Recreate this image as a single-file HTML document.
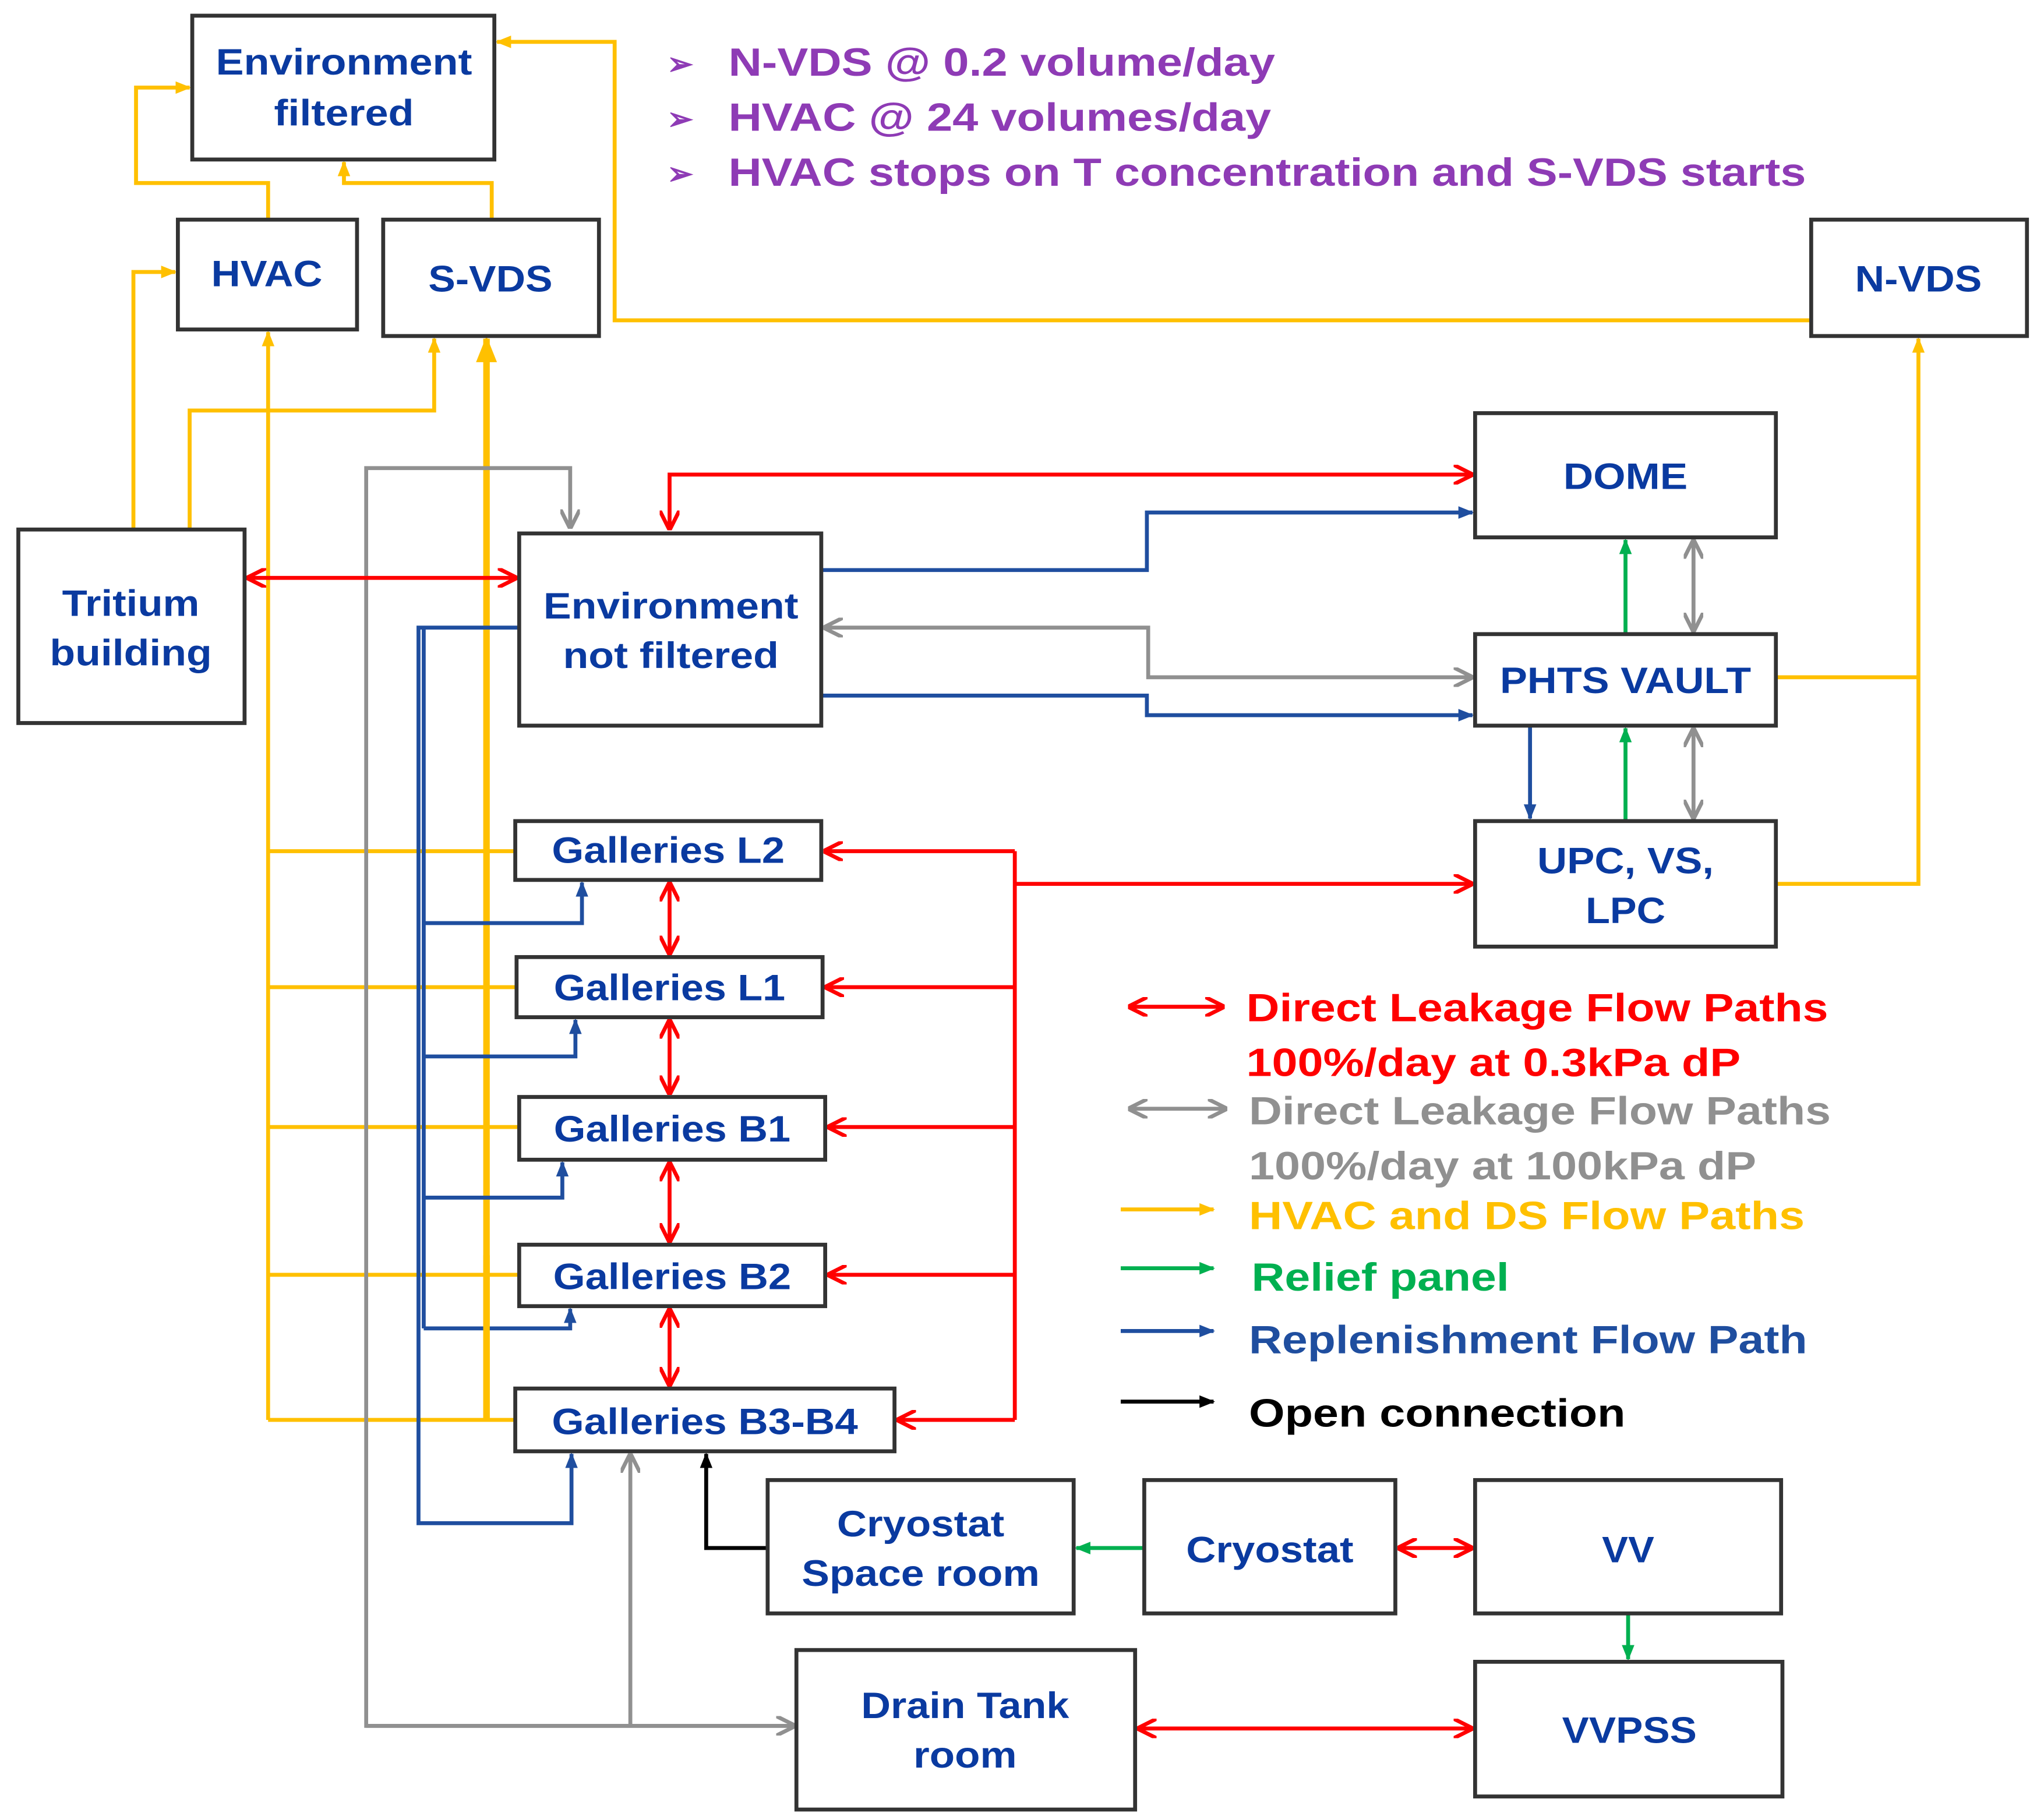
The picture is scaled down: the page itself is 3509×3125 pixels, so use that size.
<!DOCTYPE html>
<html><head><meta charset="utf-8"><style>
html,body{margin:0;padding:0;background:#fff;}
svg{display:block;}
text{font-family:"Liberation Sans",Arial,sans-serif;font-weight:bold;}
</style></head><body>
<svg width="3509" height="3125" viewBox="0 0 1563 1392" xmlns="http://www.w3.org/2000/svg">
<defs>
<marker id="ay" viewBox="0 0 10 10" refX="9" refY="5" markerWidth="4" markerHeight="4" orient="auto-start-reverse" markerUnits="strokeWidth"><path d="M0,1 L10,5 L0,9 z" fill="#FFC000"/></marker>
<marker id="ar" viewBox="0 0 10 10" refX="9" refY="5" markerWidth="5" markerHeight="5" orient="auto-start-reverse" markerUnits="strokeWidth"><path d="M0,0 L10,5 L0,10" fill="none" stroke="#FF0000" stroke-width="2"/></marker>
<marker id="ag" viewBox="0 0 10 10" refX="9" refY="5" markerWidth="5" markerHeight="5" orient="auto-start-reverse" markerUnits="strokeWidth"><path d="M0,0 L10,5 L0,10" fill="none" stroke="#909090" stroke-width="2"/></marker>
<marker id="ab" viewBox="0 0 10 10" refX="9" refY="5" markerWidth="4" markerHeight="4" orient="auto-start-reverse" markerUnits="strokeWidth"><path d="M0,1 L10,5 L0,9 z" fill="#1F4E9F"/></marker>
<marker id="agr" viewBox="0 0 10 10" refX="9" refY="5" markerWidth="4" markerHeight="4" orient="auto-start-reverse" markerUnits="strokeWidth"><path d="M0,1 L10,5 L0,9 z" fill="#00B050"/></marker>
<marker id="ak" viewBox="0 0 10 10" refX="9" refY="5" markerWidth="4" markerHeight="4" orient="auto-start-reverse" markerUnits="strokeWidth"><path d="M0,1 L10,5 L0,9 z" fill="#000"/></marker>
</defs>

<!-- yellow -->
<g fill="none" stroke="#FFC000" stroke-width="3">
<path d="M1385,245 H470 V32 H380" marker-end="url(#ay)"/>
<path d="M205,168 V140 H104 V67 H145" marker-end="url(#ay)"/>
<path d="M376,168 V140 H263 V124" marker-end="url(#ay)"/>
<path d="M102,405 V208 H134" marker-end="url(#ay)"/>
<path d="M145,405 V314 H332 V259" marker-end="url(#ay)"/>
<path d="M205,1086 V254" marker-end="url(#ay)"/>
<path d="M205,651 H394 M205,755 H395 M205,862 H397 M205,975 H397 M205,1086 H394"/>
<path d="M372,1086 V259" stroke-width="5" marker-end="url(#ay)"/>
<path d="M1358,518 H1467 M1358,676 H1467 V259" marker-end="url(#ay)"/>
</g>

<!-- gray -->
<g fill="none" stroke="#909090" stroke-width="3">
<path d="M607,1320 H280 V358 H436 V403" marker-end="url(#ag)"/>
<path d="M280,1320 H607" marker-end="url(#ag)"/>
<path d="M482,1320 V1113" marker-end="url(#ag)"/>
<path d="M631,480 H878 V518 H1125" marker-start="url(#ag)" marker-end="url(#ag)"/>
<path d="M1295,414 V482" marker-start="url(#ag)" marker-end="url(#ag)"/>
<path d="M1295,558 V625" marker-start="url(#ag)" marker-end="url(#ag)"/>
</g>

<!-- blue -->
<g fill="none" stroke="#1F4E9F" stroke-width="3">
<path d="M628,436 H877 V392 H1126" marker-end="url(#ab)"/>
<path d="M628,532 H877 V547 H1126" marker-end="url(#ab)"/>
<path d="M1170,555 V626" marker-end="url(#ab)"/>
<path d="M397,480 H320 V1165 H437 V1112" marker-end="url(#ab)"/>
<path d="M324,480 V1016"/>
<path d="M324,706 H445 V675" marker-end="url(#ab)"/>
<path d="M324,808 H440 V780" marker-end="url(#ab)"/>
<path d="M324,916 H430 V889" marker-end="url(#ab)"/>
<path d="M324,1016 H436 V1001" marker-end="url(#ab)"/>
</g>

<!-- red -->
<g fill="none" stroke="#FF0000" stroke-width="3">
<path d="M512,404 V363 H1125" marker-start="url(#ar)" marker-end="url(#ar)"/>
<path d="M190,442 H394" marker-start="url(#ar)" marker-end="url(#ar)"/>
<path d="M776,651 V1086"/>
<path d="M776,651 H631" marker-end="url(#ar)"/>
<path d="M776,755 H632" marker-end="url(#ar)"/>
<path d="M776,862 H634" marker-end="url(#ar)"/>
<path d="M776,975 H634" marker-end="url(#ar)"/>
<path d="M776,1086 H687" marker-end="url(#ar)"/>
<path d="M776,676 H1125" marker-end="url(#ar)"/>
<path d="M512,676 V729" marker-start="url(#ar)" marker-end="url(#ar)"/>
<path d="M512,781 V836" marker-start="url(#ar)" marker-end="url(#ar)"/>
<path d="M512,890 V949" marker-start="url(#ar)" marker-end="url(#ar)"/>
<path d="M512,1002 V1059" marker-start="url(#ar)" marker-end="url(#ar)"/>
<path d="M1070,1184 H1125" marker-start="url(#ar)" marker-end="url(#ar)"/>
<path d="M871,1322 H1125" marker-start="url(#ar)" marker-end="url(#ar)"/>
</g>

<!-- green -->
<g fill="none" stroke="#00B050" stroke-width="3">
<path d="M1243,485 V413" marker-end="url(#agr)"/>
<path d="M1243,628 V557" marker-end="url(#agr)"/>
<path d="M875,1184 H823" marker-end="url(#agr)"/>
<path d="M1245,1234 V1269" marker-end="url(#agr)"/>
</g>
<path d="M587,1184 H540 V1112" fill="none" stroke="#000" stroke-width="3" marker-end="url(#ak)"/>

<!-- boxes -->
<g fill="#fff" stroke="#333" stroke-width="3">
<rect x="147" y="12" width="231" height="110"/>
<rect x="136" y="168" width="137" height="84"/>
<rect x="293" y="168" width="165" height="89"/>
<rect x="1385" y="168" width="165" height="89"/>
<rect x="14" y="405" width="173" height="148"/>
<rect x="397" y="408" width="231" height="147"/>
<rect x="1128" y="316" width="230" height="95"/>
<rect x="1128" y="485" width="230" height="70"/>
<rect x="1128" y="628" width="230" height="96"/>
<rect x="394" y="628" width="234" height="45"/>
<rect x="395" y="732" width="234" height="46"/>
<rect x="397" y="839" width="234" height="48"/>
<rect x="397" y="952" width="234" height="47"/>
<rect x="394" y="1062" width="290" height="48"/>
<rect x="587" y="1132" width="234" height="102"/>
<rect x="875" y="1132" width="192" height="102"/>
<rect x="1128" y="1132" width="234" height="102"/>
<rect x="609" y="1262" width="259" height="122"/>
<rect x="1128" y="1271" width="235" height="103"/>
</g>
<path d="M372,1086 V960" stroke="#FFC000" stroke-width="5"/>

<g fill="#0A3AA0" font-size="28" text-anchor="middle" lengthAdjust="spacingAndGlyphs">
<text x="263" y="57" textLength="196" lengthAdjust="spacingAndGlyphs">Environment</text><text x="263" y="96" textLength="107" lengthAdjust="spacingAndGlyphs">filtered</text>
<text x="204" y="219" textLength="85" lengthAdjust="spacingAndGlyphs">HVAC</text>
<text x="375" y="223" textLength="95" lengthAdjust="spacingAndGlyphs">S-VDS</text>
<text x="1467" y="223" textLength="97" lengthAdjust="spacingAndGlyphs">N-VDS</text>
<text x="100" y="471" textLength="105" lengthAdjust="spacingAndGlyphs">Tritium</text><text x="100" y="509" textLength="124" lengthAdjust="spacingAndGlyphs">building</text>
<text x="513" y="473" textLength="195" lengthAdjust="spacingAndGlyphs">Environment</text><text x="513" y="511" textLength="165" lengthAdjust="spacingAndGlyphs">not filtered</text>
<text x="1243" y="374" textLength="95" lengthAdjust="spacingAndGlyphs">DOME</text>
<text x="1243" y="530" textLength="192" lengthAdjust="spacingAndGlyphs">PHTS VAULT</text>
<text x="1243" y="668" textLength="135" lengthAdjust="spacingAndGlyphs">UPC, VS,</text><text x="1243" y="706" textLength="61" lengthAdjust="spacingAndGlyphs">LPC</text>
<text x="511" y="660" textLength="178" lengthAdjust="spacingAndGlyphs">Galleries L2</text>
<text x="512" y="765" textLength="177" lengthAdjust="spacingAndGlyphs">Galleries L1</text>
<text x="514" y="873" textLength="181" lengthAdjust="spacingAndGlyphs">Galleries B1</text>
<text x="514" y="986" textLength="182" lengthAdjust="spacingAndGlyphs">Galleries B2</text>
<text x="539" y="1097" textLength="234" lengthAdjust="spacingAndGlyphs">Galleries B3-B4</text>
<text x="704" y="1175" textLength="128" lengthAdjust="spacingAndGlyphs">Cryostat</text><text x="704" y="1213" textLength="182" lengthAdjust="spacingAndGlyphs">Space room</text>
<text x="971" y="1195" textLength="128" lengthAdjust="spacingAndGlyphs">Cryostat</text>
<text x="1245" y="1195" textLength="40" lengthAdjust="spacingAndGlyphs">VV</text>
<text x="738" y="1314" textLength="159" lengthAdjust="spacingAndGlyphs">Drain Tank</text><text x="738" y="1352" textLength="79" lengthAdjust="spacingAndGlyphs">room</text>
<text x="1246" y="1333" textLength="103" lengthAdjust="spacingAndGlyphs">VVPSS</text>
</g>

<g fill="#8E3BB5" font-size="30">
<text x="510" y="57" font-size="24">➢</text><text x="557" y="58" textLength="418" lengthAdjust="spacingAndGlyphs">N-VDS @ 0.2 volume/day</text>
<text x="510" y="99" font-size="24">➢</text><text x="557" y="100" textLength="415" lengthAdjust="spacingAndGlyphs">HVAC @ 24 volumes/day</text>
<text x="510" y="141" font-size="24">➢</text><text x="557" y="142" textLength="824" lengthAdjust="spacingAndGlyphs">HVAC stops on T concentration and S-VDS starts</text>
</g>

<!-- legend -->
<g fill="none" stroke-width="3">
<path d="M864,770 H935" stroke="#FF0000" marker-start="url(#ar)" marker-end="url(#ar)"/>
<path d="M864,848 H937" stroke="#909090" marker-start="url(#ag)" marker-end="url(#ag)"/>
<path d="M857,925 H928" stroke="#FFC000" marker-end="url(#ay)"/>
<path d="M857,970 H928" stroke="#00B050" marker-end="url(#agr)"/>
<path d="M857,1018 H928" stroke="#1F4E9F" marker-end="url(#ab)"/>
<path d="M857,1072 H928" stroke="#000" marker-end="url(#ak)"/>
</g>
<g font-size="30">
<text x="953" y="781" fill="#FF0000" textLength="445" lengthAdjust="spacingAndGlyphs">Direct Leakage Flow Paths</text>
<text x="953" y="823" fill="#FF0000" textLength="378" lengthAdjust="spacingAndGlyphs">100%/day at 0.3kPa dP</text>
<text x="955" y="860" fill="#909090" textLength="445" lengthAdjust="spacingAndGlyphs">Direct Leakage Flow Paths</text>
<text x="955" y="902" fill="#909090" textLength="388" lengthAdjust="spacingAndGlyphs">100%/day at 100kPa dP</text>
<text x="955" y="940" fill="#FFC000" textLength="425" lengthAdjust="spacingAndGlyphs">HVAC and DS Flow Paths</text>
<text x="957" y="987" fill="#00B050" textLength="197" lengthAdjust="spacingAndGlyphs">Relief panel</text>
<text x="955" y="1035" fill="#1F4E9F" textLength="427" lengthAdjust="spacingAndGlyphs">Replenishment Flow Path</text>
<text x="955" y="1091" fill="#000" textLength="288" lengthAdjust="spacingAndGlyphs">Open connection</text>
</g>
</svg>
</body></html>
